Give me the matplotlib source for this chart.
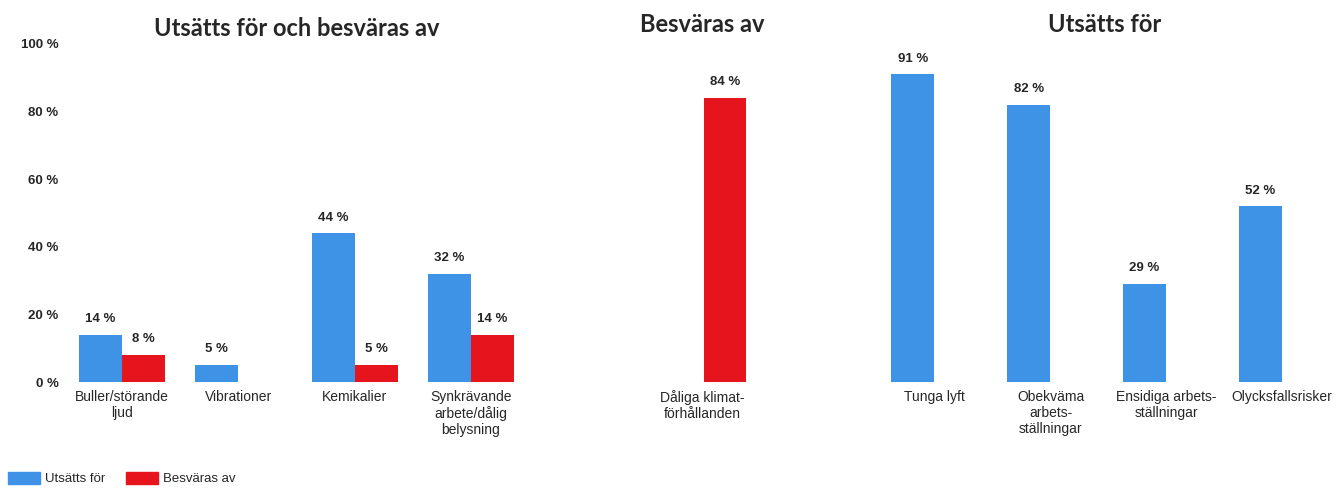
import matplotlib.pyplot as plt
import numpy as np
from matplotlib.patches import Patch

plt.rcParams['font.family'] = ['Liberation Sans', 'DejaVu Sans']

# Data
groupCats = ['Buller/störande\nljud', 'Vibrationer', 'Kemikalier',
             'Synkrävande\narbete/dålig\nbelysning']
groupExposed = [14, 5, 44, 32]
groupBothered = [8, None, 5, 14]

botherCats = ['Dåliga klimat-\nförhållanden']
botherVals = [84]

exposedCats = ['Tunga lyft', 'Obekväma\narbets-\nställningar',
               'Ensidiga arbets-\nställningar', 'Olycksfallsrisker']
exposedVals = [91, 82, 29, 52]

yTicks = [0, 20, 40, 60, 80, 100]

BLUE = '#3f93e6'
RED = '#e6141d'
TXT = '#262626'

W, H = 1338, 490
fig = plt.figure(figsize=(W / 100, H / 100), dpi=100)


def axesAt(x0, x1, y0=382, y1=44):
    return fig.add_axes([x0 / W, 1 - y0 / H, (x1 - x0) / W, (y0 - y1) / H])


def cleanAx(ax, n):
    ax.set_ylim(0, 100)
    ax.set_xlim(-0.5, n - 0.5)
    for s in ax.spines.values():
        s.set_visible(False)
    ax.tick_params(length=0)
    ax.set_xticks([])
    ax.set_yticks([])


def valLabel(ax, x, v):
    ax.annotate(f'{v} %', (x, v), xytext=(0, 7), textcoords='offset points',
                ha='center', va='bottom', fontsize=9.5, fontweight='bold', color=TXT)


def catLabels(ax, cats, shift=0.0):
    for i, c in enumerate(cats):
        ax.annotate(c, (i + shift, 0), xytext=(0, -6), textcoords='offset points',
                    ha='center', va='top', fontsize=10, color=TXT,
                    linespacing=1.15, annotation_clip=False)


def title(ax, s, x, y):
    ax.set_title(s, fontsize=17, fontweight='bold', family='Lato',
                 color=TXT, x=x, y=y)


bw = 0.37

# Left panel: grouped
ax1 = axesAt(64, 529)
cleanAx(ax1, len(groupCats))
x = np.arange(len(groupCats))
for i in x:
    ax1.bar(i - bw / 2, groupExposed[i], bw, color=BLUE)
    valLabel(ax1, i - bw / 2, groupExposed[i])
    if groupBothered[i] is not None:
        ax1.bar(i + bw / 2, groupBothered[i], bw, color=RED)
        valLabel(ax1, i + bw / 2, groupBothered[i])
catLabels(ax1, groupCats)
ax1.set_yticks(yTicks)
ax1.set_yticklabels([f'{t} %' for t in yTicks], fontsize=9.5, fontweight='bold', color=TXT)
ax1.tick_params(axis='y', pad=4)
title(ax1, 'Utsätts för och besväras av', 0.5, 1.0)

# Middle panel: bothered only
ax2 = axesAt(667, 783)
cleanAx(ax2, 1)
ax2.bar(0, botherVals[0], bw, color=RED)
valLabel(ax2, 0, botherVals[0])
catLabels(ax2, botherCats, shift=-0.2)
title(ax2, 'Besväras av', 0.3, 1.01)

# Right panel: exposed only
ax3 = axesAt(855, 1318)
cleanAx(ax3, len(exposedCats))
for i, v in enumerate(exposedVals):
    ax3.bar(i, v, bw, color=BLUE)
    valLabel(ax3, i, v)
catLabels(ax3, exposedCats, shift=0.19)
title(ax3, 'Utsätts för', 0.54, 1.01)

fig.legend(handles=[Patch(color=BLUE, label='Utsätts för'),
                    Patch(color=RED, label='Besväras av')],
           loc='lower left', bbox_to_anchor=(-0.003, -0.015), ncol=2, frameon=False,
           fontsize=9.5, handlelength=2.4, handleheight=1.1, columnspacing=1.6,
           handletextpad=0.4, labelcolor=TXT)

fig.savefig('out.png', dpi=100)
